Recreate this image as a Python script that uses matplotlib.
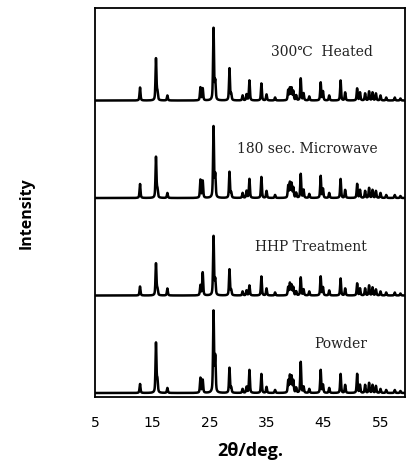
import numpy as np
import matplotlib
matplotlib.use("Agg")
import matplotlib.pyplot as plt

# peak positions (2theta, deg) shared by all four patterns
peak_pos = [12.8, 15.6, 15.85, 17.6, 23.4, 23.8, 25.7, 26.0, 28.5, 28.8,
            30.8, 31.5, 32.0, 34.1, 35.0, 36.5, 38.8, 39.1, 39.4, 39.7,
            40.2, 41.0, 41.5, 42.5, 44.5, 44.9, 46.0, 48.0, 48.8, 50.9,
            51.4, 52.3, 53.0, 53.6, 54.2, 55.0, 56.0, 57.5, 58.5]

# peak heights (pixels above each baseline)
powder = [9, 50, 12, 5, 15, 13, 81, 35, 25, 5,
          4, 6, 23, 19, 6, 3, 12, 17, 16, 12,
          5, 31, 6, 4, 23, 8, 5, 19, 8, 19,
          8, 8, 10, 8, 7, 4, 3, 3, 2]
hhp = [9, 32, 6, 7, 10, 23, 59, 15, 26, 5,
       4, 5, 10, 19, 7, 3, 8, 12, 10, 8,
       4, 18, 6, 4, 19, 8, 5, 17, 7, 12,
       7, 7, 10, 8, 6, 4, 3, 3, 2]
microwave = [14, 41, 8, 5, 18, 17, 71, 22, 26, 5,
             5, 7, 19, 21, 7, 3, 12, 15, 14, 10,
             5, 24, 8, 4, 22, 9, 5, 19, 8, 14,
             8, 7, 10, 8, 7, 5, 3, 3, 2]
heated = [13, 42, 8, 5, 13, 12, 72, 18, 32, 6,
          5, 6, 20, 17, 6, 3, 10, 12, 12, 9,
          5, 22, 7, 4, 18, 9, 5, 20, 8, 12,
          8, 7, 9, 8, 7, 5, 3, 3, 2]

series = [powder, hhp, microwave, heated]
labels = ["Powder", "HHP Treatment", "180 sec. Microwave", "300\u2103  Heated"]
label_x = [48.0, 42.7, 42.2, 44.8]
xticks = [5, 15, 25, 35, 45, 55]

tt = np.linspace(5, 59.3, 3000)
px_per_unit = 97.5
fwhm = 0.2


def pattern(heights):
    y = np.zeros_like(tt)
    for p, h in zip(peak_pos, heights):
        d = (tt - p) / (fwhm / 2)
        prof = 0.5 * np.exp(-np.log(2) * d ** 2) + 0.5 / (1 + d ** 2)
        y += h * prof
    return y / px_per_unit


fig = plt.figure(figsize=(4.07, 4.70), dpi=100)
ax = fig.add_axes([95 / 407, 1 - 397 / 470, 310 / 407, 389 / 470])

for i, (h, lab, lx) in enumerate(zip(series, labels, label_x)):
    ax.plot(tt, pattern(h) + i, color="black", lw=1.8)
    ax.text(lx, i + 0.5, lab, ha="center", va="center",
            family="DejaVu Serif", fontsize=10, color="#222222")

ax.set_xlim(4.9, 59.3)
ax.set_ylim(-0.041, 3.949)
ax.set_xticks(xticks)
ax.set_yticks([])
ax.tick_params(axis="x", length=0, pad=14, labelsize=10)
for s in ax.spines.values():
    s.set_linewidth(1.3)

ax.set_xlabel("2\u03b8/deg.", family="Open Sans", fontweight="bold",
              fontsize=13, labelpad=8)
fig.text(27 / 407, 1 - 213 / 470, "Intensity", rotation=90, ha="center",
         va="center", family="Open Sans", fontweight="bold", fontsize=11.5)

fig.savefig("out.png", dpi=100)
